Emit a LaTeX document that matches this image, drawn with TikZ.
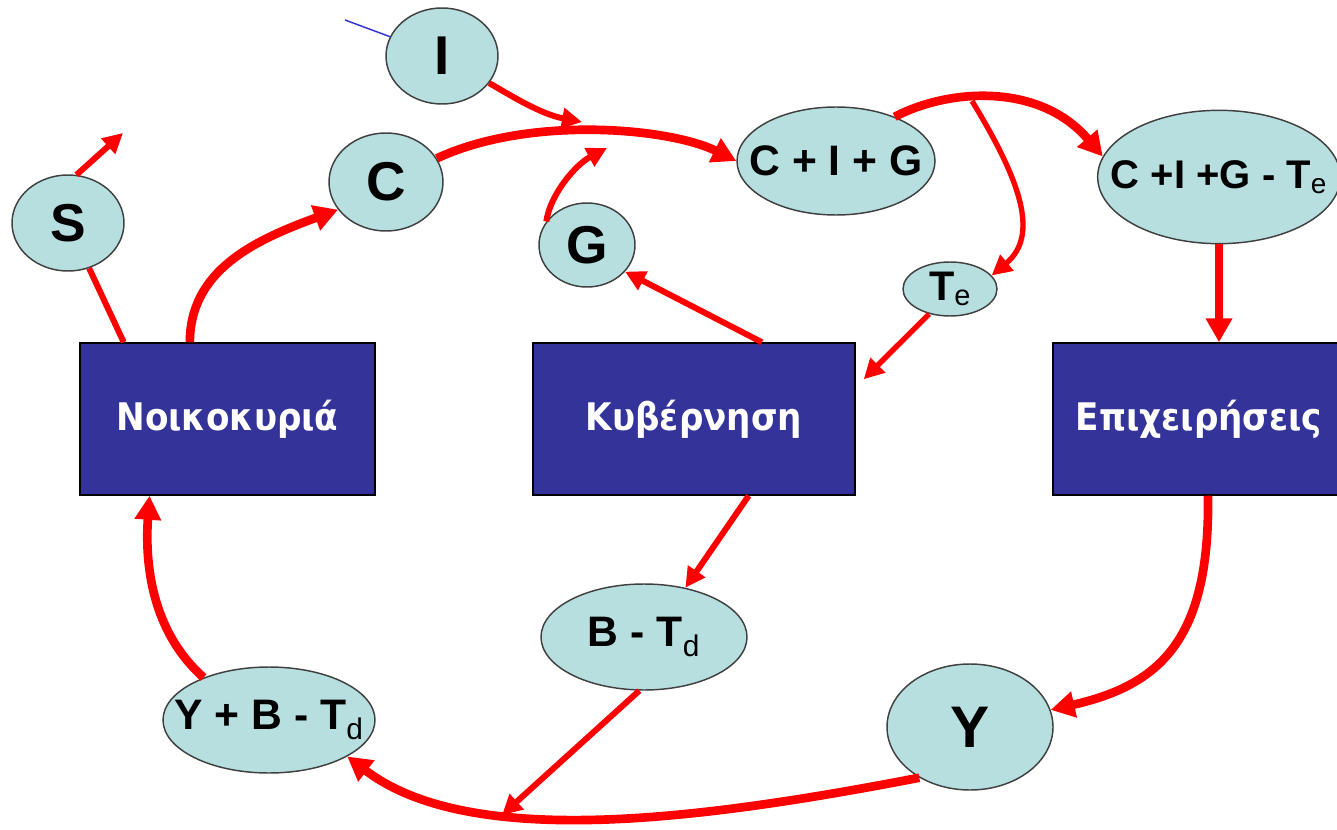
\documentclass[tikz,border=0pt]{standalone}
\usepackage{fontspec}
\setmainfont{Liberation Sans}
\newfontfamily\boxfont[FakeStretch=0.9]{DejaVu Sans}
\usetikzlibrary{arrows.meta,shapes.geometric,calc}
\definecolor{ellfill}{HTML}{B7DFE0}
\definecolor{boxblue}{HTML}{333399}
\definecolor{arrred}{HTML}{FF0000}
\definecolor{bluestroke}{HTML}{3333CC}
\newcommand\et[1]{\makebox[0pt][c]{#1}}
\newcommand\lsub[1]{\textsubscript{\mdseries #1}}
\tikzset{
  ell/.style={ellipse, draw=black!75, line width=1.1pt, fill=ellfill, inner sep=0pt},
  fs/.style={font=\bfseries\fontsize{#1}{#1}\selectfont},
  blk/.style={rectangle, draw=black, line width=1.1pt, fill=boxblue, text=white, inner sep=0pt,
    font=\boxfont\bfseries\fontsize{28.5}{30}\selectfont},
  thk/.style={draw=arrred, line width=6.5pt},
  mdw/.style={draw=arrred, line width=4.5pt},
  thn/.style={draw=arrred, line width=4pt},
  tipL/.style={-{Triangle[length=18pt,width=19pt]}},
  tipM/.style={-{Triangle[length=15pt,width=15pt]}},
  blueline/.style={draw=bluestroke, line width=1.1pt},
}
\begin{document}
\begin{tikzpicture}[x=0.75pt,y=-0.75pt]
\useasboundingbox (0,0) rectangle (1337,830);
\clip (0,0) rectangle (1337,830);

% ellipses
\node[ell, fs=41, minimum width=84pt, minimum height=72pt] (I) at (442,56) {\et{I}};
\node[ell, fs=41, minimum width=85.5pt, minimum height=73.5pt] (C) at (386,182) {\et{C}};
\node[ell, fs=40, minimum width=84pt, minimum height=72pt] (S) at (68,223) {\et{S}};
\node[ell, fs=40, minimum width=72pt, minimum height=63pt] (G) at (587,245) {\et{G}};
\node[ell, fs=32, minimum width=148.5pt, minimum height=81pt] (CIG) at (836,161) {\et{C + I + G}};
\node[ell, fs=30, minimum width=182pt, minimum height=100pt] (CIGT) at (1219,177) {\et{C +I +G - T\lsub{e}}};
\node[ell, fs=31, minimum width=70.5pt, minimum height=40.5pt] (Te) at (950,289) {\et{T\lsub{e}}};
\node[ell, fs=32, minimum width=154.5pt, minimum height=79.5pt] (BT) at (644,637) {\et{B - T\lsub{d}}};
\node[ell, fs=32, minimum width=159pt, minimum height=79.5pt] (YBT) at (269,720) {\et{Y + B - T\lsub{d}}};
\node[ell, fs=44, minimum width=124.5pt, minimum height=94.5pt] (Y) at (970,727) {\et{Y}};

% boxes
\node[blk, minimum width=221.25pt, minimum height=114pt] (H) at (227.5,419) {Νοικοκυριά};
\node[blk, minimum width=241.5pt, minimum height=114pt] (K) at (694,419) {Κυβέρνηση};
\node[blk, minimum width=219pt, minimum height=114pt] (E) at (1199,419) {Επιχειρήσεις};

% free ends
\coordinate (bl) at (345,20);
\coordinate (itip) at (582,122);
\coordinate (gtip) at (607,148);
\coordinate (stip) at (123,133);
\coordinate (br) at (972,101);
\coordinate (mg) at (502,815);

% connectors
\draw[blueline] (bl) -- (I);
\draw[mdw,tipM] (I) .. controls (510,95) and (540,114) .. (itip);
\draw[thk,tipL] (C) .. controls (530,115) and (670,128) .. (CIG.west);
\draw[mdw,tipM] (G.150) .. controls (550,195) and (575,165) .. (gtip);
\draw[mdw,tipM] (S.80) -- (stip);
\draw[mdw] ($(H.north west)!0.15!(H.north east)$) -- (S);
\draw[thk,tipL] ($(H.north west)!0.373!(H.north east)$) .. controls (190,270) and (255,240) .. (C.210);
\draw[thk,tipL] (CIG.37) .. controls (950,88) and (1040,83) .. (CIGT.170);
\draw[thn,tipM] (br) .. controls (1020,180) and (1040,235) .. (Te.18);
\draw[thn,tipM] (Te.230) -- ($(K.north east)+(8,37)$);
\draw[mdw,tipM] ($(K.north west)!0.71!(K.north east)$) -- (G.-35);
\draw[thk,tipL] (CIGT.south) -- (CIGT.south |- E.north);
\draw[mdw,tipM] ($(K.south west)!0.669!(K.south east)$) -- (BT.50);
\draw[thk,tipL] ($(E.south)+(9,0)$) .. controls (1210,640) and (1160,685) .. (Y.12);
\draw[thk,tipL] (Y.225) .. controls (700,820) and (470,850) .. (YBT.-25);
\draw[mdw,tipM] (BT.265) -- (mg);
\draw[thk,tipL] (YBT.147) .. controls (150,630) and (145,560) .. ($(H.south west)!0.237!(H.south east)$);
\end{tikzpicture}
\end{document}
